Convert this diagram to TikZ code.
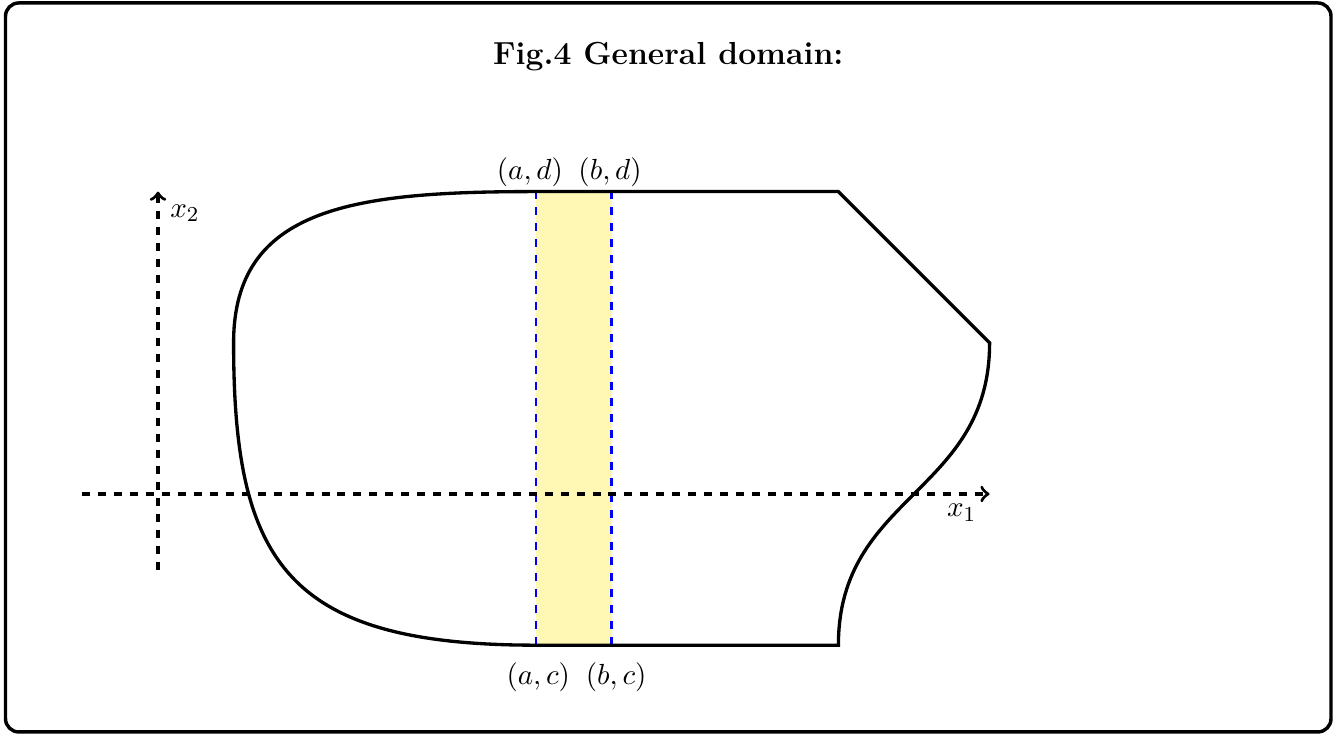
\documentclass[tikz,border=0pt]{standalone}
\usepackage{xcolor}
\definecolor{stripfill}{RGB}{255,247,180}
\begin{document}
\begin{tikzpicture}[x=1cm,y=1cm,
  domainline/.style={line width=1.25pt, line join=miter},
  axisline/.style={line width=1.25pt, dashed, ->},
  stripline/.style={line width=1.1pt, dashed, blue},
  framebox/.style={line width=1.3pt, rounded corners=5pt},
  ptlabel/.style={font=\fontsize{10.95}{13}\selectfont, inner sep=0pt},
  titlelabel/.style={font=\fontsize{12}{14.4}\selectfont\bfseries, inner sep=0pt}]
% canvas
\useasboundingbox (-2.090,-3.175) rectangle (15.635,6.534);
\draw[framebox] (-2.017,-3.148) rectangle (15.516,6.495);
% title
\node[titlelabel, anchor=base] (title) at (6.75,5.675) {Fig.4 General domain:};
% key coordinates
\coordinate (ad) at (5,4);
\coordinate (bd) at (6,4);
\coordinate (ac) at (5,-2);
\coordinate (bc) at (6,-2);
\coordinate (tr) at (9,4);
\coordinate (rp) at (11,2);
\coordinate (br) at (9,-2);
\coordinate (lp) at (1,2);
% strip
\fill[stripfill] (ac) rectangle (bd);
\draw[stripline] (ac) -- (ad);
\draw[stripline] (bc) -- (bd);
% axes
\coordinate (x1s) at (-1,0);
\coordinate (x1e) at (11,0);
\coordinate (x2s) at (0,-1);
\coordinate (x2e) at (0,4);
\draw[axisline] (x1s) -- (x1e);
\draw[axisline] (x2s) -- (x2e);
\node[ptlabel] (x1lab) at (10.63,-0.25) {$x_1$};
\node[ptlabel] (x2lab) at (0.357,3.717) {$x_2$};
% domain boundary
\draw[domainline] (lp) .. controls (1,3.8) and (2.6,4) .. (ad) -- (tr) -- (rp)
  .. controls (11,0) and (9,0) .. (br) -- (ac)
  .. controls (1.7,-2) and (1,-0.9) .. (lp);
% labels
\node[ptlabel] (adlab) at (4.92,4.25) {$(a,d)$};
\node[ptlabel] (bdlab) at (5.98,4.25) {$(b,d)$};
\node[ptlabel] (aclab) at (5.03,-2.43) {$(a,c)$};
\node[ptlabel] (bclab) at (6.06,-2.43) {$(b,c)$};
\end{tikzpicture}
\end{document}
